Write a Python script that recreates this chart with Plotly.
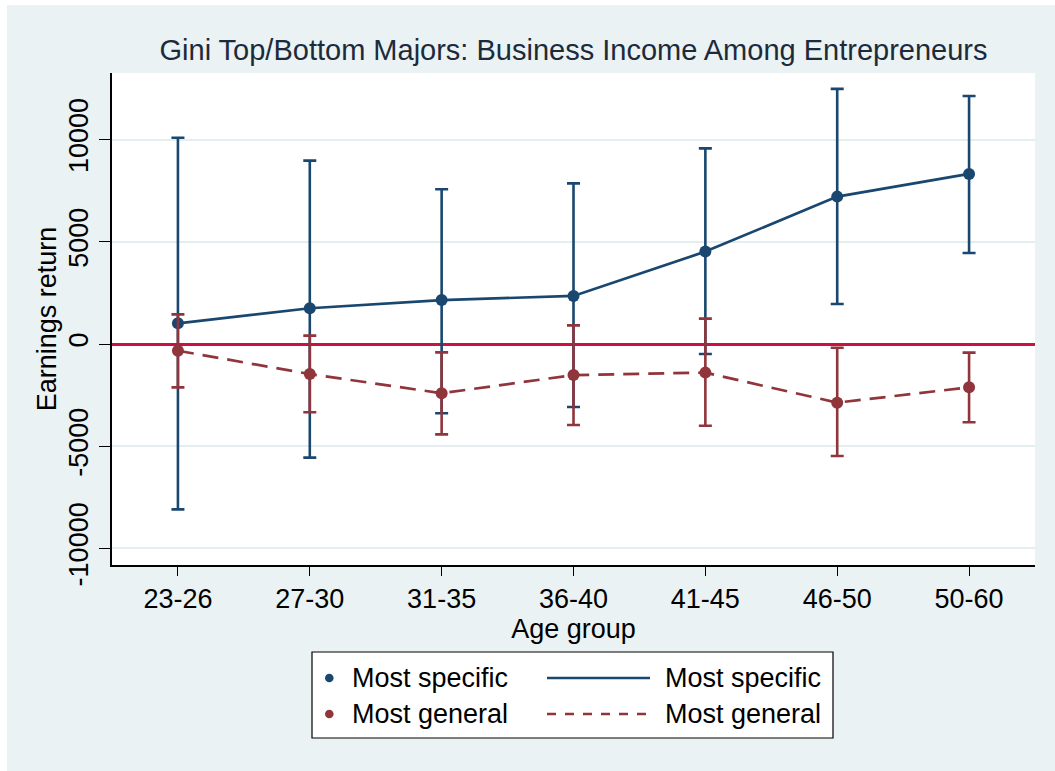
import plotly.graph_objects as go

# Age groups and estimated earnings returns with 95% confidence bounds
age_groups = ["23-26", "27-30", "31-35", "36-40", "41-45", "46-50", "50-60"]

specific_est = [1010, 1750, 2150, 2350, 4520, 7210, 8320]
specific_lo = [-8090, -5560, -3390, -3080, -490, 1960, 4450]
specific_hi = [10090, 8970, 7570, 7860, 9570, 12480, 12130]

general_est = [-330, -1470, -2410, -1520, -1400, -2870, -2120]
general_lo = [-2120, -3340, -4420, -3960, -4000, -5480, -3830]
general_hi = [1450, 410, -410, 910, 1240, -180, -420]

y_ticks = [-10000, -5000, 0, 5000, 10000]

NAVY = "#1a476f"
MAROON = "#90353b"
ZERO = "#cc1040"
BG = "#eaf2f3"
FONT = "Liberation Sans, Arial, sans-serif"

W, H = 1055, 771
L, R, T, B = 112, 20, 73, 206
PW, PH = W - L - R, H - T - B


def px(xp):
    return (xp - L) / PW


def py(yp):
    return (H - B - yp) / PH


def series(est, lo, hi, color, dash, name):
    return go.Scatter(
        x=age_groups, y=est, name=name, mode="lines+markers",
        line=dict(color=color, width=2.7, dash=dash),
        marker=dict(color=color, size=12),
        error_y=dict(
            type="data", symmetric=False,
            array=[h - e for h, e in zip(hi, est)],
            arrayminus=[e - l for e, l in zip(est, lo)],
            color=color, thickness=2.6, width=6.5,
        ),
        showlegend=False,
    )


fig = go.Figure()
fig.add_trace(series(specific_est, specific_lo, specific_hi, NAVY, "solid", "Most specific"))
fig.add_trace(series(general_est, general_lo, general_hi, MAROON, "16px,9px", "Most general"))

shapes = [
    # white frame strips around the graph region
    dict(type="rect", xref="paper", yref="paper", x0=px(0), x1=px(W), y0=py(5), y1=py(0),
         fillcolor="white", line=dict(width=0), layer="below"),
    dict(type="rect", xref="paper", yref="paper", x0=px(0), x1=px(7), y0=py(H), y1=py(0),
         fillcolor="white", line=dict(width=0), layer="below"),
    # legend box
    dict(type="rect", xref="paper", yref="paper", x0=px(312), x1=px(833), y0=py(738), y1=py(652),
         fillcolor="white", line=dict(color="black", width=1.2)),
]
annotations = []

legend_rows = [("Most specific", NAVY, "solid", 678), ("Most general", MAROON, "dash", 714)]
for label, color, dash, yrow in legend_rows:
    shapes.append(dict(type="circle", xref="paper", yref="paper",
                       x0=px(325), x1=px(333.6), y0=py(yrow + 4.3), y1=py(yrow - 4.3),
                       fillcolor=color, line=dict(color=color, width=0)))
    shapes.append(dict(type="line", xref="paper", yref="paper",
                       x0=px(547), x1=px(650), y0=py(yrow), y1=py(yrow),
                       line=dict(color=color, width=2.4, dash=dash)))
    annotations.append(dict(text=label, xref="paper", yref="paper", x=px(350), y=py(yrow),
                            xanchor="left", yanchor="middle", showarrow=False,
                            font=dict(size=27, color="black", family=FONT)))
    annotations.append(dict(text=label, xref="paper", yref="paper", x=px(663), y=py(yrow),
                            xanchor="left", yanchor="middle", showarrow=False,
                            font=dict(size=27, color="black", family=FONT)))

fig.update_layout(
    width=W, height=H,
    margin=dict(l=L, r=R, t=T, b=B),
    paper_bgcolor=BG, plot_bgcolor="white",
    font=dict(family=FONT, size=27, color="black"),
    title=dict(text="Gini Top/Bottom Majors: Business Income Among Entrepreneurs",
               x=px(573.5), xref="paper", xanchor="center",
               y=1 - 50 / H, yanchor="middle",
               font=dict(size=29, color="#1c2b3b", family=FONT)),
    shapes=shapes, annotations=annotations,
    showlegend=False,
)

fig.update_xaxes(
    type="category", range=[-0.5, 6.5],
    showline=True, linecolor="black", linewidth=1.5,
    ticks="outside", ticklen=9, tickwidth=1.2, tickcolor="black",
    showgrid=False, zeroline=False,
    tickfont=dict(size=27),
    title=dict(text="Age group", font=dict(size=27), standoff=2),
)
fig.update_yaxes(
    range=[-10812, 13258],
    tickvals=y_ticks, ticktext=[str(v) for v in y_ticks], tickangle=-90,
    showline=True, linecolor="black", linewidth=1.5,
    ticks="outside", ticklen=11, tickwidth=1.2, tickcolor="black",
    showgrid=True, gridcolor="#e4eef0", gridwidth=1.5,
    zeroline=True, zerolinecolor=ZERO, zerolinewidth=2.5,
    tickfont=dict(size=27),
    title=dict(text="Earnings return", font=dict(size=27), standoff=0),
)

fig.write_html("out.html")
